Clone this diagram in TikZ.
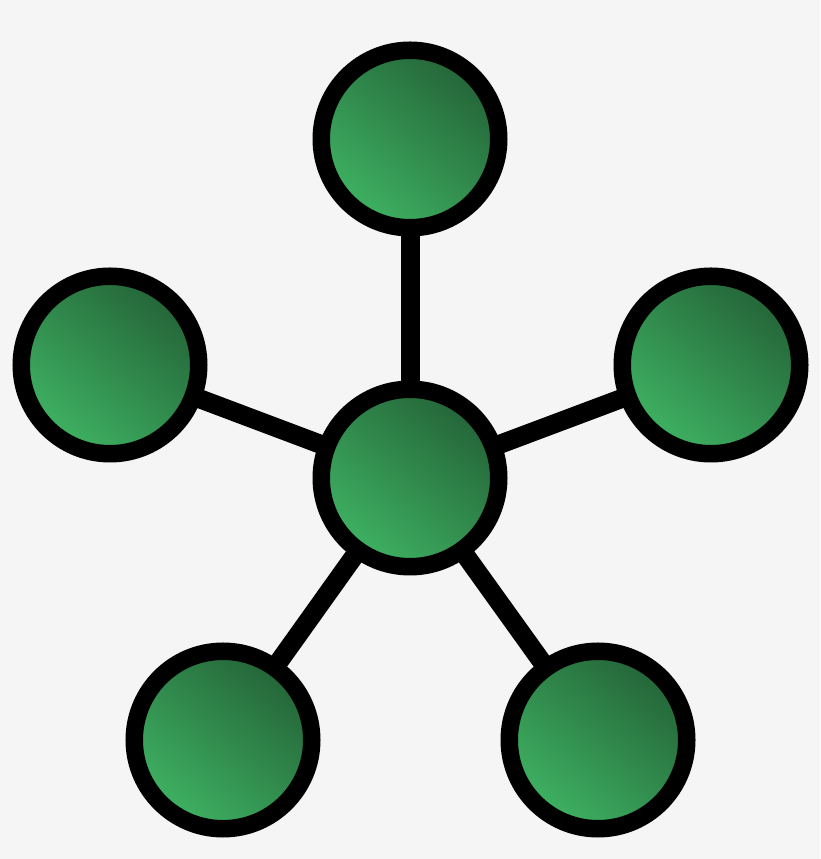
\documentclass[tikz,border=0pt]{standalone}
\usetikzlibrary{backgrounds}
\definecolor{nodedark}{RGB}{36,100,56}
\definecolor{nodelight}{RGB}{62,178,98}
\definecolor{bggray}{RGB}{245,245,245}
\begin{document}
\begin{tikzpicture}

%
% Styles
%
\tikzstyle{station} = [circle,draw=black,line width=0.35cm,minimum size=3.55cm,inner sep=0pt,
  top color=nodedark,bottom color=nodelight,shading angle=-40]
\tikzstyle{link} = [line width=0.38cm,draw=black]

\useasboundingbox (0,0) rectangle (16.4,17.18);

\node[station] (c)  at ( 8.20, 7.62) {};
\node[station] (t)  at ( 8.20,14.40) {};
\node[station] (l)  at ( 2.20, 9.88) {};
\node[station] (r)  at (14.22, 9.88) {};
\node[station] (bl) at ( 4.46, 2.38) {};
\node[station] (br) at (11.96, 2.38) {};

\begin{pgfonlayer}{background}
\fill[bggray] (0,0) rectangle (16.4,17.18);
\draw[link] (c.center) -- (t.center);
\draw[link] (c.center) -- (l.center);
\draw[link] (c.center) -- (r.center);
\draw[link] (c.center) -- (bl.center);
\draw[link] (c.center) -- (br.center);
\end{pgfonlayer}

\end{tikzpicture}
\end{document}
